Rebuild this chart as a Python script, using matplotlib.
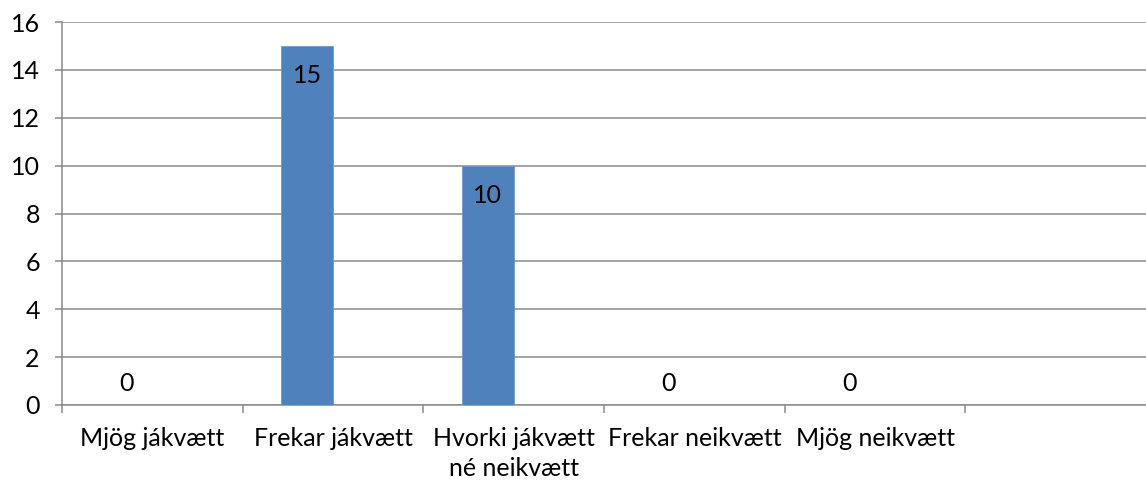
import numpy as np
import matplotlib
matplotlib.use("Agg")
import matplotlib.pyplot as plt

categories = ["Mjög jákvætt", "Frekar jákvætt", "Hvorki jákvætt\nné neikvætt",
              "Frekar neikvætt", "Mjög neikvætt", ""]
values = [0, 15, 10, 0, 0, np.nan]
yticks = [0, 2, 4, 6, 8, 10, 12, 14, 16]

plt.rcParams['font.family'] = ['Lato', 'DejaVu Sans']
FS = 18

fig = plt.figure(figsize=(11.46, 4.82), dpi=100)
ax = fig.add_axes([62/1146, 77/482, (1146-62)/1146, 383/482])

grid_c = '#8a8a8a'
bar_w = 1/3.5
x = np.arange(len(categories))
ax.bar(x - bar_w/2, np.nan_to_num(values), width=bar_w, color='#4F81BD',
       edgecolor='#6f98c9', linewidth=0.6, zorder=3)

for xi, v in zip(x, values):
    if np.isnan(v):
        continue
    dy = -21.6 if v > 0 else 15.8
    ax.annotate(f"{v:g}", (xi - bar_w/2, v), xytext=(0, dy), textcoords='offset points',
                ha='center', va='center', fontsize=FS, color='black', zorder=4)

ax.set_xlim(-0.5, len(categories) - 0.5)
ax.set_ylim(0, 16)
ax.set_yticks(yticks)
ax.set_yticklabels([str(t) for t in yticks], fontsize=FS)
ax.yaxis.grid(True, color=grid_c, linewidth=1.1, zorder=0)
ax.set_axisbelow(True)

ax.set_xticks(x)
ax.set_xticklabels(categories, fontsize=FS, linespacing=1.38)
ax.set_xticks(np.arange(-0.5, len(categories) - 0.5, 1), minor=True)
ax.tick_params(axis='x', which='major', length=0, pad=16)
ax.tick_params(axis='x', which='minor', length=6, color=grid_c, width=1.1)
ax.tick_params(axis='y', length=5, color=grid_c, width=1.1, pad=11)

for s in ['top', 'right']:
    ax.spines[s].set_visible(False)
for s in ['left', 'bottom']:
    ax.spines[s].set_color(grid_c)
    ax.spines[s].set_linewidth(1.1)

fig.savefig("out.png", dpi=100, facecolor='white')
